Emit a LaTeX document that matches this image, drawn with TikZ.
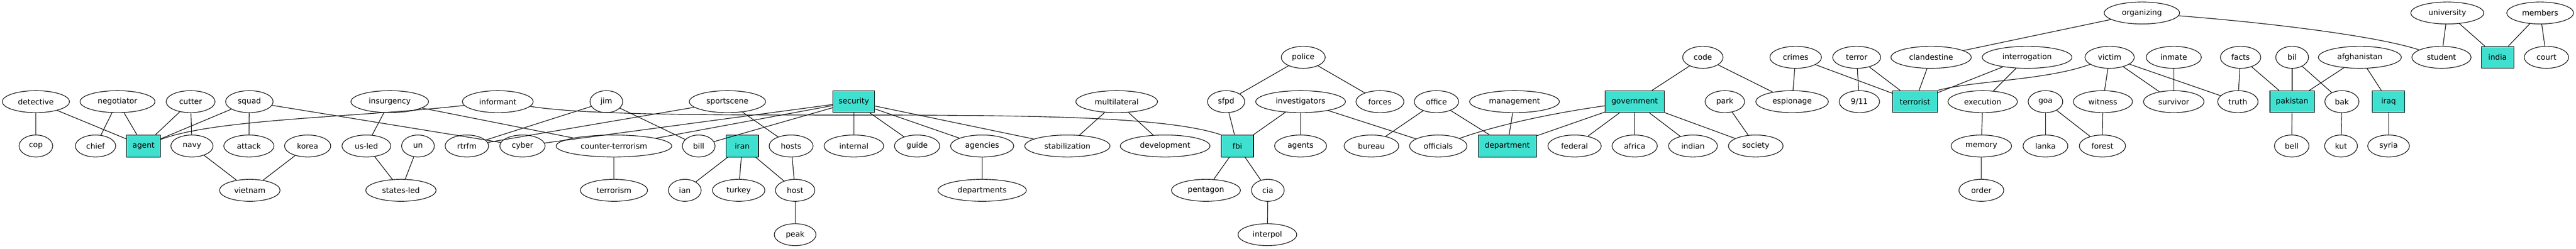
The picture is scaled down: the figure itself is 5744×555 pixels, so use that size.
\documentclass[tikz,border=0pt]{standalone}
\usepackage{fontspec}
\setmainfont{DejaVu Sans}
\usetikzlibrary{shapes.geometric}
\definecolor{turq}{HTML}{40E0D0}
\tikzset{%
   wd/.style={
      ellipse,
      draw=black,
      inner sep=0pt,
      minimum height=49pt,
      minimum width=#1,
      font=\fontsize{17}{20}\selectfont
   },
   kw/.style={
      rectangle,
      draw=black,
      fill=turq,
      inner sep=0pt,
      minimum height=49pt,
      minimum width=#1,
      font=\fontsize{17}{20}\selectfont
   },
}
\begin{document}
\begin{tikzpicture}[x=1pt, y=-1pt, line width=1.3pt]
   \useasboundingbox (0,0) rectangle (5744,555);
   % rank 0
   \node[wd=168pt] (organizing) at (4776,29) {organizing};
   \node[wd=163pt] (university) at (5457,29) {university};
   \node[wd=149pt] (members) at (5664,29) {members};
   % rank 1
   \node[wd=98pt] (police) at (2906,128) {police};
   \node[wd=90pt] (code) at (3797,128) {code};
   \node[wd=115pt] (crimes) at (4004,128) {crimes};
   \node[wd=107pt] (terror) at (4140,128) {terror};
   \node[wd=179pt] (clandestine) at (4306,128) {clandestine};
   \node[wd=200pt] (interrogation) at (4520,128) {interrogation};
   \node[wd=110pt] (victim) at (4704,128) {victim};
   \node[wd=123pt] (inmate) at (4847,128) {inmate};
   \node[wd=90pt] (facts) at (4996,128) {facts};
   \node[wd=73pt] (bil) at (5111,128) {bil};
   \node[wd=185pt] (afghanistan) at (5262,128) {afghanistan};
   \node[wd=132pt] (student) at (5444,128) {student};
   \node[kw=72pt] (india) at (5569,128) {india};
   \node[wd=99pt] (court) at (5678,128) {court};
   % rank 2
   \node[wd=150pt] (detective) at (80,227) {detective};
   \node[wd=167pt] (negotiator) at (262,227) {negotiator};
   \node[wd=109pt] (cutter) at (425,227) {cutter};
   \node[wd=106pt] (squad) at (556,227) {squad};
   \node[wd=173pt] (insurgency) at (869,227) {insurgency};
   \node[wd=158pt] (informant) at (1110,227) {informant};
   \node[wd=73pt] (jim) at (1352,227) {jim};
   \node[wd=170pt] (sportscene) at (1622,227) {sportscene};
   \node[kw=93pt] (security) at (1904,227) {security};
   \node[wd=182pt] (multilateral) at (2490,227) {multilateral};
   \node[wd=83pt] (sfpd) at (2734,227) {sfpd};
   \node[wd=200pt] (investigators) at (2900,227) {investigators};
   \node[wd=107pt] (forces) at (3077,227) {forces};
   \node[wd=99pt] (office) at (3203,227) {office};
   \node[wd=200pt] (management) at (3377,227) {management};
   \node[kw=132pt] (government) at (3645,227) {government};
   \node[wd=88pt] (park) at (3846,227) {park};
   \node[wd=162pt] (espionage) at (3996,227) {espionage};
   \node[wd=90pt] (nine) at (4146,227) {9/11};
   \node[kw=100pt] (terrorist) at (4270,227) {terrorist};
   \node[wd=155pt] (execution) at (4421,227) {execution};
   \node[wd=77pt] (goa) at (4561,227) {goa};
   \node[wd=132pt] (witness) at (4689,227) {witness};
   \node[wd=135pt] (survivor) at (4847,227) {survivor};
   \node[wd=90pt] (truth) at (4990,227) {truth};
   \node[kw=99pt] (pakistan) at (5111,227) {pakistan};
   \node[wd=76pt] (bak) at (5222,227) {bak};
   \node[kw=72pt] (iraq) at (5326,227) {iraq};
   % rank 3
   \node[wd=75pt] (cop) at (80,326) {cop};
   \node[wd=90pt] (chief) at (213,326) {chief};
   \node[kw=75pt] (agent) at (320,326) {agent};
   \node[wd=94pt] (navy) at (428,326) {navy};
   \node[wd=112pt] (attack) at (555,326) {attack};
   \node[wd=103pt] (korea) at (686,326) {korea};
   \node[wd=109pt] (usled) at (817,326) {us-led};
   \node[wd=73pt] (un) at (932,326) {un};
   \node[wd=97pt] (rtrfm) at (1041,326) {rtrfm};
   \node[wd=101pt] (cyber) at (1165,326) {cyber};
   \node[wd=258pt] (cterror) at (1369,326) {counter-terrorism};
   \node[wd=73pt] (bill) at (1558,326) {bill};
   \node[kw=72pt] (iran) at (1655,326) {iran};
   \node[wd=98pt] (hosts) at (1764,326) {hosts};
   \node[wd=133pt] (internal) at (1904,326) {internal};
   \node[wd=101pt] (guide) at (2045,326) {guide};
   \node[wd=141pt] (agencies) at (2190,326) {agencies};
   \node[wd=190pt] (stabilization) at (2380,326) {stabilization};
   \node[wd=200pt] (development) at (2598,326) {development};
   \node[kw=72pt] (fbi) at (2759,326) {fbi};
   \node[wd=116pt] (agents) at (2900,326) {agents};
   \node[wd=122pt] (bureau) at (3058,326) {bureau};
   \node[wd=128pt] (officials) at (3207,326) {officials};
   \node[kw=130pt] (department) at (3361,326) {department};
   \node[wd=119pt] (federal) at (3511,326) {federal};
   \node[wd=101pt] (africa) at (3645,326) {africa};
   \node[wd=109pt] (indian) at (3775,326) {indian};
   \node[wd=122pt] (society) at (3915,326) {society};
   \node[wd=135pt] (memory) at (4418,326) {memory};
   \node[wd=100pt] (lanka) at (4561,326) {lanka};
   \node[wd=103pt] (forest) at (4688,326) {forest};
   \node[wd=77pt] (bell) at (5110,326) {bell};
   \node[wd=73pt] (kut) at (5220,326) {kut};
   \node[wd=93pt] (syria) at (5326,326) {syria};
   % rank 4
   \node[wd=135pt] (vietnam) at (557,425) {vietnam};
   \node[wd=157pt] (statesled) at (894,425) {states-led};
   \node[wd=150pt] (terrorism) at (1369,425) {terrorism};
   \node[wd=73pt] (ian) at (1527,425) {ian};
   \node[wd=117pt] (turkey) at (1647,425) {turkey};
   \node[wd=88pt] (host) at (1773,425) {host};
   \node[wd=197pt] (departments) at (2190,425) {departments};
   \node[wd=154pt] (pentagon) at (2689,425) {pentagon};
   \node[wd=73pt] (cia) at (2827,425) {cia};
   \node[wd=100pt] (order) at (4418,425) {order};
   % rank 5
   \node[wd=93pt] (peak) at (1773,524) {peak};
   \node[wd=131pt] (interpol) at (2826,524) {interpol};
   % edges
   \path (agent) edge (detective) edge (negotiator) edge (cutter) edge (squad);
   \draw (agent) .. controls (480,265) and (800,262) .. (informant);
   \path (detective) edge (cop);
   \path (negotiator) edge (chief);
   \path (cutter) edge (navy);
   \path (squad) edge (attack) edge (cyber);
   \path (vietnam) edge (navy) edge (korea);
   \path (insurgency) edge (usled) edge (cterror);
   \path (statesled) edge (usled) edge (un);
   \path (rtrfm) edge (jim) edge (sportscene);
   \path (bill) edge (jim);
   \path (cterror) edge (terrorism);
   \draw (informant) .. controls (1300,255) and (1500,257) .. (1900,257)
      .. controls (2300,257) and (2600,260) .. (fbi.north west);
   \path (security) edge (cyber) edge (cterror) edge (bill) edge (internal)
      edge (guide) edge (agencies) edge (stabilization);
   \path (hosts) edge (sportscene) edge (host);
   \path (iran) edge (ian) edge (turkey) edge (host);
   \path (host) edge (peak);
   \path (agencies) edge (departments);
   \path (multilateral) edge (stabilization) edge (development);
   \path (fbi) edge (sfpd) edge (investigators) edge (pentagon) edge (cia);
   \path (cia) edge (interpol);
   \path (police) edge (sfpd) edge (forces);
   \path (investigators) edge (agents) edge (officials);
   \path (office) edge (bureau) edge (department);
   \path (management) edge (department);
   \path (government) edge (code) edge (department) edge (federal) edge (africa)
      edge (indian) edge (society);
   \draw (officials) .. controls (3350,275) and (3480,250) .. (government);
   \path (espionage) edge (code) edge (crimes);
   \path (society) edge (park);
   \path (terrorist) edge (crimes) edge (terror) edge (clandestine) edge (interrogation);
   \draw (victim) .. controls (4560,180) and (4400,180) .. (terrorist.north east);
   \path (nine) edge (terror);
   \path (organizing) edge (clandestine);
   \draw (organizing) .. controls (5050,50) and (5300,80) .. (student);
   \path (execution) edge (interrogation) edge (memory);
   \path (memory) edge (order);
   \path (goa) edge (lanka) edge (forest);
   \path (victim) edge (witness) edge (survivor) edge (truth);
   \path (forest) edge (witness);
   \path (survivor) edge (inmate);
   \path (truth) edge (facts);
   \path (pakistan) edge (facts) edge (bil) edge (afghanistan) edge (bell);
   \path (bak) edge (bil) edge (kut);
   \path (iraq) edge (afghanistan) edge (syria);
   \path (student) edge (university);
   \path (india) edge (university) edge (members);
   \path (court) edge (members);
\end{tikzpicture}
\end{document}
